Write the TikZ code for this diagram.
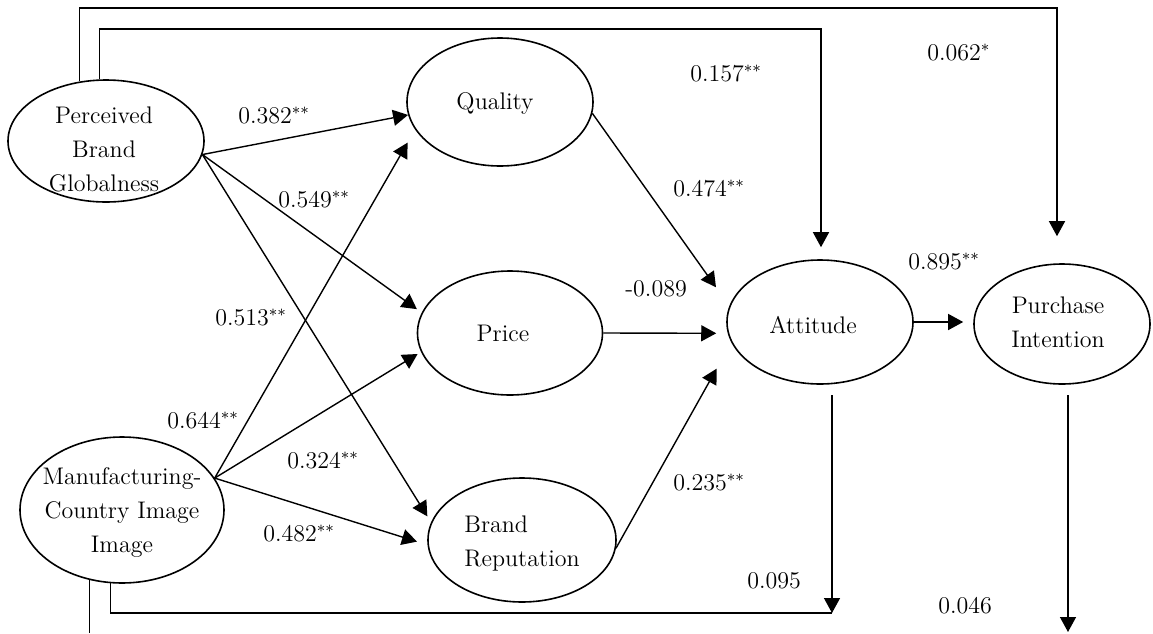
\documentclass[tikz,border=0pt]{standalone}
\usetikzlibrary{arrows.meta,shapes.geometric}
\begin{document}
\begin{tikzpicture}[x=0.5pt,y=-0.5pt,
  ell/.style={draw, ellipse, line width=0.8pt, inner sep=0pt},
  txt/.style={font=\fontsize{12}{17}\selectfont, align=center, inner sep=0pt},
  lbl/.style={font=\fontsize{12}{14}\selectfont, anchor=base west, inner sep=0pt},
  arr/.style={line width=0.7pt, -{Triangle[length=7.5pt,width=8pt]}},
  ln/.style={line width=0.7pt}]
\useasboundingbox (0,0) rectangle (1153,633);

% ellipses
\node[ell, minimum width=98pt, minimum height=61pt] (pbg) at (106,141) {};
\node[ell, minimum width=102pt, minimum height=73pt] (mci) at (122,510) {};
\node[ell, minimum width=93pt, minimum height=64pt] (quality) at (500,102) {};
\node[ell, minimum width=92.5pt, minimum height=62pt] (price) at (510,333) {};
\node[ell, minimum width=94pt, minimum height=62pt] (br) at (522,540) {};
\node[ell, minimum width=93pt, minimum height=62pt] (att) at (820,322) {};
\node[ell, minimum width=88pt, minimum height=60pt] (pi) at (1062,324) {};

% texts
\node[txt] (pbgt) at (104,149) {Perceived\\Brand\\Globalness};
\node[txt] (mcit) at (122,513) {Manufacturing-\\Country Image\\Image};
\node[txt] (qualityt) at (495,103) {Quality};
\node[txt] (pricet) at (503,333) {Price};
\node[txt, align=left] (brt) at (522,543) {Brand\\Reputation};
\node[txt] (attt) at (813,325) {Attitude};
\node[txt] (pit) at (1058,322) {Purchase\\Intention};

% structural paths
\draw[arr] (pbg.-8) -- (quality.188);
\draw[arr, shorten >=3pt] (pbg.-8) -- (price.167);
\draw[arr, shorten >=3.5pt] (pbg.-8) -- (br.169);
\draw[arr, shorten >=7.5pt] (mci.19) -- (quality.198);
\draw[arr, shorten >=2pt] (mci.19) -- (price.192);
\draw[arr, shorten >=5.5pt] (mci.19) -- (br.183);
\draw[arr, shorten >=11.5pt] (quality.-7) -- (att.170);
\draw[arr, shorten >=5.75pt] (price.east) -- (att.187);
\draw[arr, shorten >=15pt] (br.-5) -- (att.193);
\draw[arr, shorten >=5pt] (att.east) -- (att.east -| pi.west);

% top direct paths
\coordinate (t1) at (1057,8);
\coordinate (t2) at (821,29);
\draw[arr, shorten >=13.5pt] (pbg.114) |- (t1) -- (t1 |- pi.north);
\draw[arr, shorten >=6pt] (pbg.96) |- (t2) -- (t2 |- att.north);

% bottom direct paths
\coordinate (b1) at (832,613);
\coordinate (a1) at (832,395);
\coordinate (b2) at (90,633);
\coordinate (p1) at (1068,395);
\coordinate (p2) at (1068,632);
\draw[ln] (mci.261) |- (b1);
\draw[arr] (a1) -- (b1);
\draw[ln] (mci.245) -- (mci.245 |- b2);
\draw[arr] (p1) -- (p2);

% labels
\node[lbl] (l1) at (238,123) {0.382$^{**}$};
\node[lbl] (l2) at (278,207) {0.549$^{**}$};
\node[lbl] (l3) at (690,81) {0.157$^{**}$};
\node[lbl] (l4) at (673,196) {0.474$^{**}$};
\node[lbl] (l5) at (927,60) {0.062$^{*}$};
\node[lbl] (l6) at (908,269) {0.895$^{**}$};
\node[lbl] (l7) at (625,296) {-0.089};
\node[lbl] (l8) at (215,325) {0.513$^{**}$};
\node[lbl] (l9) at (167,428) {0.644$^{**}$};
\node[lbl] (l10) at (287,468) {0.324$^{**}$};
\node[lbl] (l11) at (263,541) {0.482$^{**}$};
\node[lbl] (l12) at (673,490) {0.235$^{**}$};
\node[lbl] (l13) at (747,588) {0.095};
\node[lbl] (l14) at (938,613) {0.046};
\end{tikzpicture}
\end{document}
